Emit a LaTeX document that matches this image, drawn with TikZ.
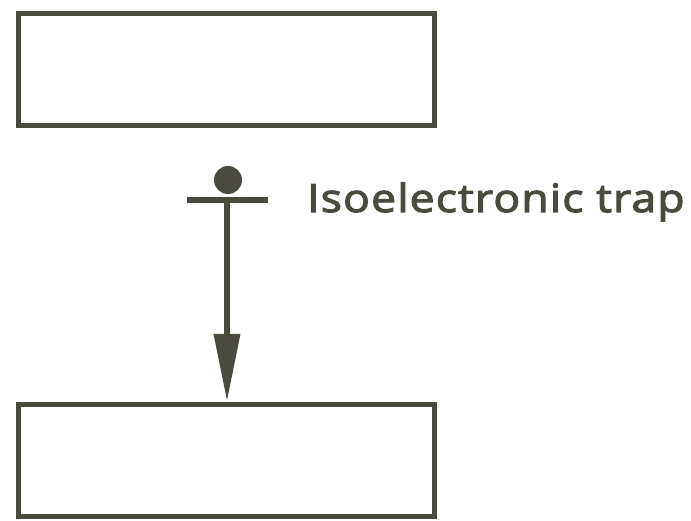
\documentclass[tikz,border=0pt]{standalone}
\usepackage{fontspec}
\setmainfont{Open Sans}
\usepackage{tikz}
\usetikzlibrary{arrows.meta,positioning}
\definecolor{ink}{HTML}{4A4A3E}

\begin{document}
\begin{tikzpicture}[
  x=1pt, y=-1pt,
  node distance=274pt,
  level/.style={draw=ink, line width=5pt, minimum width=416pt, minimum height=112pt, inner sep=0pt},
  label text/.style={font=\fontsize{39}{41}\selectfont\addfontfeature{FakeStretch=1.14,FakeBold=3,LetterSpace=3}, text=ink, inner sep=0pt, anchor=base west}
]
\useasboundingbox (0,0) rectangle (691,521);
\node[level] (upper) at (226.5,69.5) {};
\node[level, below=of upper] (lower) {};
\coordinate (trap) at (227,200);
\fill[ink] (228,180) circle (14pt);
\draw[ink, line width=6pt] ([xshift=-40pt]trap) -- ([xshift=41pt]trap);
\draw[ink, line width=6.5pt, -{Triangle[length=68pt, width=25pt]}] (trap) -- (trap |- lower.north);
\node[label text] (name) at (307,212) {Isoelectronic trap};
\end{tikzpicture}
\end{document}
